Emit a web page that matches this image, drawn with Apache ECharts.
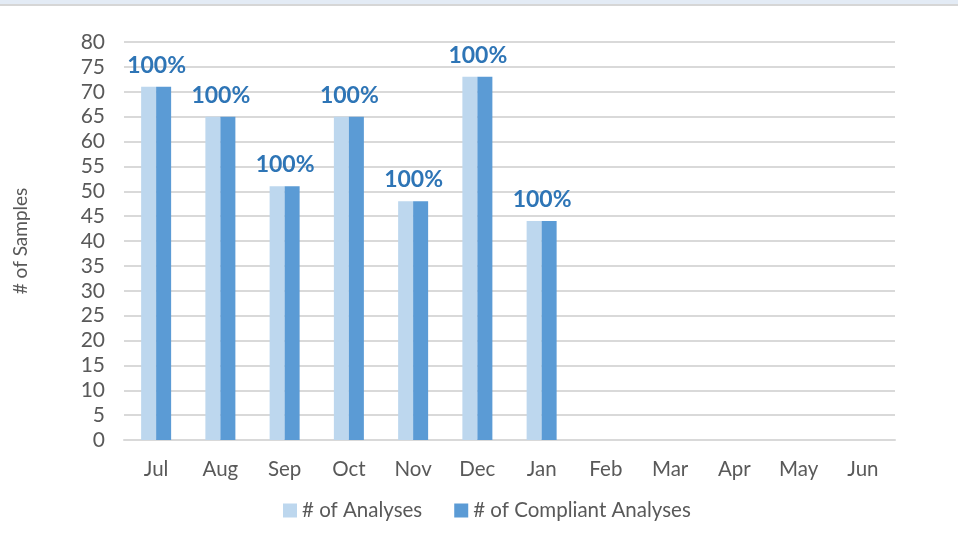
<!DOCTYPE html>
<html><head><meta charset="utf-8">
<script src="https://cdn.jsdelivr.net/npm/echarts@6/dist/echarts.min.js"></script>
<style>
html,body{margin:0;padding:0;background:#fff;}
#top{position:absolute;left:0;top:0;width:958px;height:4px;background:#e3ebf5;border-bottom:2px solid #d6d6d6;}
#c{width:958px;height:541px;}
</style></head>
<body>
<div id="c"></div>
<div id="top"></div>
<script>
const categories = ['Jul','Aug','Sep','Oct','Nov','Dec','Jan','Feb','Mar','Apr','May','Jun'];
const analyses = [71, 65, 51, 65, 48, 73, 44, null, null, null, null, null];
const compliant = [71, 65, 51, 65, 48, 73, 44, null, null, null, null, null];
const pctLabels = ['100%','100%','100%','100%','100%','100%','100%','','','','',''];
const yTicks = {min: 0, max: 80, interval: 5};

const chart = echarts.init(document.getElementById('c'));
const font = 'Lato, "Open Sans", sans-serif';
chart.setOption({
  animation: false,
  textStyle: {fontFamily: font},
  grid: {left: 124, right: 63, top: 42, bottom: 101},
  legend: {
    bottom: 15, left: 278, itemWidth: 14, itemHeight: 14, itemGap: 32,
    icon: 'rect',
    textStyle: {fontSize: 20.5, color: '#595959', fontFamily: font}
  },
  xAxis: {
    type: 'category', data: categories,
    axisLine: {lineStyle: {color: '#d9d9d9', width: 2}},
    axisTick: {show: false},
    axisLabel: {fontSize: 20.5, color: '#595959', margin: 19}
  },
  yAxis: {
    type: 'value', min: yTicks.min, max: yTicks.max, interval: yTicks.interval,
    name: '# of Samples', nameLocation: 'middle', nameGap: 94,
    nameTextStyle: {fontSize: 19, color: '#595959'},
    axisLine: {show: false}, axisTick: {show: false},
    axisLabel: {fontSize: 21, color: '#595959', margin: 19},
    splitLine: {lineStyle: {color: '#d9d9d9', width: 2}}
  },
  series: [
    {name: '# of Analyses', type: 'bar', data: analyses, barWidth: 15, barGap: '0%',
     itemStyle: {color: '#bdd7ee'}},
    {name: '# of Compliant Analyses', type: 'bar', data: compliant, barWidth: 15,
     itemStyle: {color: '#5b9bd5'},
     label: {show: true, position: 'top', offset: [-7, -5], fontSize: 23, fontWeight: 'bold',
       color: '#2e75b6',
       formatter: p => pctLabels[p.dataIndex]}}
  ]
});
</script>
</body></html>
